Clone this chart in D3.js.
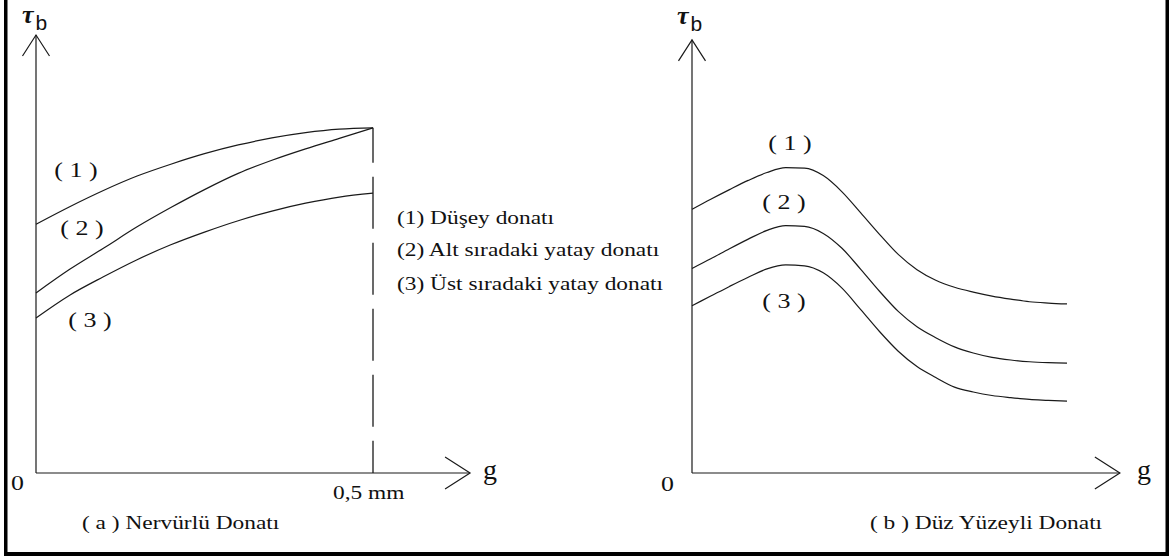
<!DOCTYPE html>
<html>
<head>
<meta charset="utf-8">
<script src="https://cdn.jsdelivr.net/npm/d3@7"></script>
<style>
  html, body { margin: 0; padding: 0; background: #fff; }
  svg { display: block; }
  .serif { font-family: "Liberation Serif", "Times New Roman", serif; fill: #111; }
  .sans { font-family: "Liberation Sans", Arial, sans-serif; fill: #111; }
</style>
</head>
<body>
<svg id="chart" width="1169" height="557"></svg>
<script>
// ---- data -------------------------------------------------------------
// (a) ribbed bars: slip g in mm, bond stress tau_b in relative units
const gRibbed = [0, 0.05, 0.1, 0.15, 0.2, 0.25, 0.3, 0.35, 0.4, 0.45, 0.5];
const tauRibbed1 = [5.68, 6.08, 6.45, 6.78, 7.05, 7.29, 7.49, 7.65, 7.77, 7.85, 7.88];
const tauRibbed2 = [4.11, 4.65, 5.13, 5.62, 6.06, 6.47, 6.84, 7.14, 7.40, 7.64, 7.88];
const tauRibbed3 = [3.54, 4.06, 4.48, 4.87, 5.21, 5.50, 5.76, 5.98, 6.16, 6.30, 6.39];

// (b) plain bars: slip in relative units
const gPlain = [0, 0.05, 0.1, 0.15, 0.2, 0.25, 0.3, 0.35, 0.4, 0.45, 0.5,
                0.55, 0.6, 0.65, 0.7, 0.75, 0.8, 0.85, 0.9, 0.95, 1.0];
const tauPlain1 = [6.02, 6.25, 6.47, 6.68, 6.86, 6.97, 6.96, 6.79, 6.42, 5.94, 5.45,
                   4.99, 4.64, 4.40, 4.24, 4.13, 4.04, 3.97, 3.91, 3.88, 3.86];
const tauPlain2 = [4.67, 4.89, 5.12, 5.34, 5.54, 5.65, 5.63, 5.47, 5.13, 4.65, 4.15,
                   3.69, 3.34, 3.09, 2.88, 2.74, 2.64, 2.58, 2.54, 2.52, 2.51];
const tauPlain3 = [3.82, 4.04, 4.26, 4.47, 4.66, 4.75, 4.73, 4.57, 4.22, 3.73, 3.23,
                   2.78, 2.43, 2.18, 1.96, 1.85, 1.77, 1.72, 1.68, 1.66, 1.64];

// axis extents (data units)
const ribbedLimitG = 0.5;      // dashed limit line
const ribbedAxisEndG = 0.644;
const plainAxisEndG = 1.141;
const leftAxisTopTau = 10;
const rightAxisTopTau = 9.89;

// texts
const legendLines = ["(1) Düşey donatı", "(2) Alt sıradaki yatay donatı", "(3) Üst sıradaki yatay donatı"];
const curveTags = ["( 1 )", "( 2 )", "( 3 )"];
const tickZero = "0";
const tickLimit = "0,5 mm";
const xTitle = "g";
const captionA = "( a ) Nervürlü Donatı";
const captionB = "( b ) Düz Yüzeyli Donatı";

// ---- layout -----------------------------------------------------------
const svg = d3.select("#chart");

const y = d3.scaleLinear().domain([0, 10]).range([473, 35]);
const xA = d3.scaleLinear().domain([0, 0.5]).range([36, 373]);
const xB = d3.scaleLinear().domain([0, 1]).range([692, 1067]);

const ink = "#1a1a1a";
const STRETCH = 1.23;   // wide, screen-style serif lettering

// serif text, widened horizontally
function label(str, x, yBase, size, anchor = "start", stretch = STRETCH) {
  const t = svg.append("text").attr("class", "serif").attr("font-size", size)
    .attr("x", x).attr("y", yBase).attr("text-anchor", anchor).text(str);
  const w = t.node().getComputedTextLength();
  t.attr("textLength", w * stretch).attr("lengthAdjust", "spacingAndGlyphs");
  return t;
}

// frame (left, right, bottom)
svg.append("rect").attr("x", 4).attr("y", 0).attr("width", 3.5).attr("height", 556).attr("fill", "#000");
svg.append("rect").attr("x", 1165.5).attr("y", 0).attr("width", 3.5).attr("height", 556).attr("fill", "#000");
svg.append("rect").attr("x", 4).attr("y", 552).attr("width", 1165).attr("height", 4).attr("fill", "#000");

function axes(x, xEnd, yTop) {
  const g = svg.append("g").attr("stroke", ink).attr("stroke-width", 1.2).attr("fill", "none");
  const x0 = x(0), y0 = y(0), xe = x(xEnd), yt = y(yTop);
  g.append("line").attr("x1", x0).attr("y1", y0).attr("x2", x0).attr("y2", yt);
  g.append("line").attr("x1", x0).attr("y1", y0).attr("x2", xe).attr("y2", y0);
  // open arrow heads
  g.append("polyline").attr("points", [[x0 - 13.5, yt + 21], [x0, yt], [x0 + 13.5, yt + 21]].join(" "));
  g.append("polyline").attr("points", [[xe - 25, y0 - 16], [xe, y0], [xe - 25, y0 + 16]].join(" "));
  return g;
}

axes(xA, ribbedAxisEndG, leftAxisTopTau);
axes(xB, plainAxisEndG, rightAxisTopTau);

// curves
const lineA = d3.line().x(d => xA(d[0])).y(d => y(d[1])).curve(d3.curveMonotoneX);
const lineB = d3.line().x(d => xB(d[0])).y(d => y(d[1])).curve(d3.curveMonotoneX);

[tauRibbed1, tauRibbed2, tauRibbed3].forEach(s => {
  svg.append("path").attr("d", lineA(d3.zip(gRibbed, s)))
    .attr("fill", "none").attr("stroke", ink).attr("stroke-width", 1.2);
});
[tauPlain1, tauPlain2, tauPlain3].forEach(s => {
  svg.append("path").attr("d", lineB(d3.zip(gPlain, s)))
    .attr("fill", "none").attr("stroke", ink).attr("stroke-width", 1.2);
});

// dashed limit at g = 0.5 mm, from the top curve down to the axis
svg.append("line")
  .attr("x1", xA(ribbedLimitG)).attr("x2", xA(ribbedLimitG))
  .attr("y1", y(d3.max([tauRibbed1[tauRibbed1.length - 1], tauRibbed2[tauRibbed2.length - 1]])))
  .attr("y2", y(0))
  .attr("stroke", ink).attr("stroke-width", 1.3)
  .attr("stroke-dasharray", "52,14").attr("stroke-dashoffset", 17);

// axis symbols: tau_b
function tauLabel(x, yBase) {
  const t = svg.append("text").attr("x", x).attr("y", yBase);
  t.append("tspan").attr("class", "serif").attr("font-size", 26).attr("font-weight", "bold")
    .attr("font-style", "italic").text("τ");
  t.append("tspan").attr("class", "sans").attr("font-size", 21).attr("dy", 7).attr("dx", 2).text("b");
}
tauLabel(22, 23);
tauLabel(677, 24);

// g labels
svg.append("text").attr("class", "serif").attr("font-size", 28).attr("x", 483).attr("y", 479).text(xTitle);
svg.append("text").attr("class", "serif").attr("font-size", 28).attr("x", 1137).attr("y", 479).text(xTitle);

// origin labels
label(tickZero, 11, 490, 21);
label(tickZero, 661, 491, 21);

// limit tick label
label(tickLimit, 333, 499, 19);

// curve tags
const tagsA = [[76, 177], [82, 235], [90, 327]];
const tagsB = [[790, 150], [784, 209], [784, 308]];
curveTags.forEach((t, i) => {
  label(t, tagsA[i][0], tagsA[i][1], 20, "middle", 1.3);
  label(t, tagsB[i][0], tagsB[i][1], 20, "middle", 1.3);
});

// legend
const legendBase = [224, 256, 290];
legendLines.forEach((t, i) => label(t, 397, legendBase[i], 19));

// captions
label(captionA, 82, 529, 19);
label(captionB, 870, 529, 19);
</script>
</body>
</html>
